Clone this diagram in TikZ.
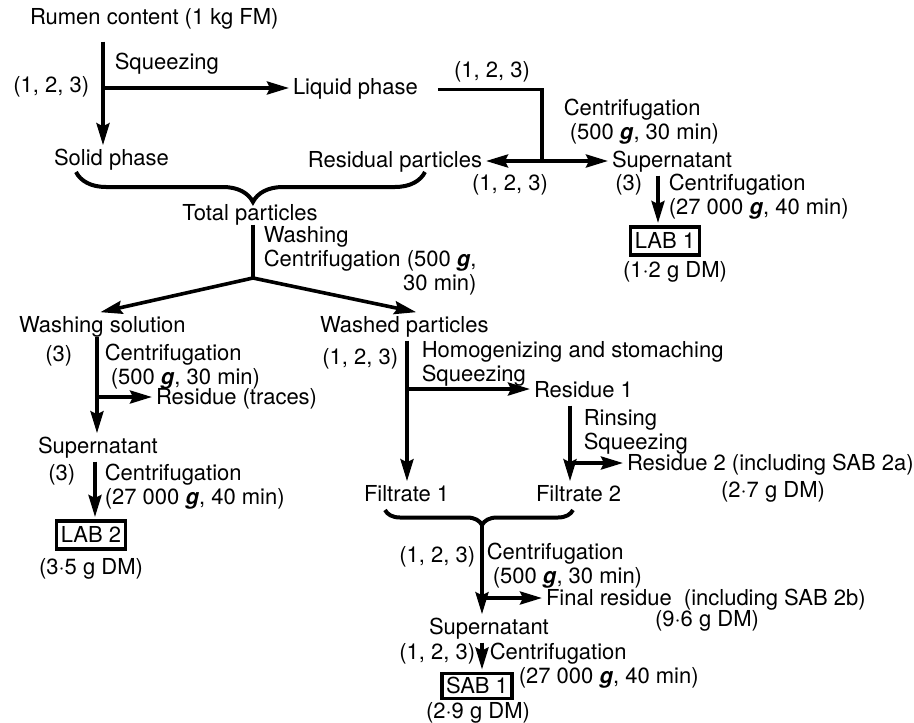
\documentclass[tikz,border=0pt]{standalone}
\usepackage{fontspec}
\setmainfont{TeX Gyre Heros}
\usepackage{tikz}
\usetikzlibrary{arrows.meta}
\usetikzlibrary{decorations.pathreplacing}
\usetikzlibrary{positioning}
\newcommand{\grav}{\textbf{\textit{g}}}
\tikzset{stage/.style={inner sep=0pt, outer sep=2pt, text height=7.9pt, text depth=2.3pt}}
\tikzset{lab/.style={inner sep=0pt}}
\tikzset{result/.style={draw, line width=1.6pt, inner xsep=2pt, inner ysep=0pt, minimum height=14pt,
                        text height=7.9pt, text depth=0pt, outer sep=2pt}}
\tikzset{curly/.style n args={2}{-, decorate, line width=2pt,
                                 decoration={brace, mirror, amplitude=#1, aspect=#2}}}

\begin{document}
\begin{tikzpicture}[->,>={Stealth[length=11pt,width=6.5pt,inset=1.5pt]},line width=1.8pt,
                    x=0.5pt,y=-0.5pt,every node/.style={font=\fontsize{11}{12}\selectfont}]
   \useasboundingbox (0,0) rectangle (914,722);

   % top: squeezing and liquid phase
   \node[stage, anchor=base west] (rumen) at (26,25) {Rumen content (1 kg FM)};
   \node[stage, anchor=base west] (liquid) at (289,95) {Liquid phase};
   \node[stage, anchor=base west] (solid) at (50,165) {Solid phase};
   \node[stage, anchor=base east] (residual) at (486,167) {Residual particles};
   \node[stage, anchor=base west] (supL) at (608,167) {Supernatant};
   \node[result] (lab1) at (665,241) {LAB 1};
   \node[stage, anchor=base] (lab1dm) at (675,277) {(1·2 g DM)};

   \node[lab, anchor=base west] (squeeze) at (113,70) {Squeezing};
   \node[lab, anchor=base east] (n123a) at (91,93) {(1, 2, 3)};
   \node[lab, anchor=base] (n123b) at (492,77) {(1, 2, 3)};
   \node[lab, anchor=base west] (centA) at (562,115) {%
      \begin{tabular}[t]{@{}l@{}}
         Centrifugation\\
         \hspace{3pt}(500 \grav, 30 min)
      \end{tabular}};
   \node[lab, anchor=base] (n123c) at (510,190) {(1, 2, 3)};
   \node[lab, anchor=base east] (n3a) at (644,190) {(3)};
   \node[lab, anchor=base west] (centB) at (667,190) {%
      \begin{tabular}[t]{@{}l@{}}
         Centrifugation\\
         (27 000 \grav, 40 min)
      \end{tabular}};

   \coordinate (jA) at (103,88);
   \coordinate (jB) at (542,161);

   \draw[shorten <=4pt] (rumen.south -| jA) -- (solid.north -| jA);
   \draw (jA) -- (jA -| liquid.west);
   \draw[-, shorten <=8pt] (liquid.east) -| (jB);
   \draw (jB) -- (jB -| residual.east);
   \draw (jB) -- (jB -| supL.west);
   \draw ([xshift=-3.5pt]lab1.north |- supL.south) -- ([xshift=-3.5pt]lab1.north);

   % total particles and washing
   \draw[curly={15pt}{0.507}] (76,172) -- (425,172);
   \node[stage, anchor=base] (total) at (250,220) {Total particles};
   \node[lab, anchor=base west] (washlab) at (262,242) {%
      \begin{tabular}[t]{@{}l@{}}
         Washing\\
         Centrifugation (500 \grav,\\
         \multicolumn{1}{@{}r@{}}{30 min)}
      \end{tabular}};
   \node[stage, anchor=base west] (washsol) at (15,332) {Washing solution};
   \node[stage, anchor=base west] (washed) at (316,332) {Washed particles};

   \coordinate (jC) at (253,278);

   \draw[-, shorten <=-2pt] (total.south -| jC) -- (jC);
   \draw (jC) -- ([xshift=-1pt]washsol.north);
   \draw (jC) -- ([xshift=6pt]washed.north);

   % left column: washing solution
   \node[lab, anchor=base east] (n3b) at (74,361) {(3)};
   \node[lab, anchor=base west] (centC) at (103,360) {%
      \begin{tabular}[t]{@{}l@{}}
         Centrifugation\\
         \hspace{3pt}(500 \grav, 30 min)
      \end{tabular}};
   \node[stage, anchor=base west] (residtr) at (152,404) {Residue (traces)};
   \node[stage, anchor=base west] (supW) at (34,453) {Supernatant};
   \node[lab, anchor=base east] (n3c) at (77,480) {(3)};
   \node[lab, anchor=base west] (centD) at (103,480) {%
      \begin{tabular}[t]{@{}l@{}}
         Centrifugation\\
         (27 000 \grav, 40 min)
      \end{tabular}};
   \node[result] (lab2) at (91,535) {LAB 2};
   \node[stage, anchor=base] (lab2dm) at (91,574) {(3·5 g DM)};

   \coordinate (jD) at (97,397);

   \draw[shorten <=-2pt] (washsol.south -| jD) -- (supW.north -| jD);
   \draw (jD) -- (jD -| residtr.west);
   \draw ([xshift=2pt]lab2.north |- supW.south) -- ([xshift=2pt]lab2.north);

   % right column: washed particles
   \node[lab, anchor=base east] (n123d) at (400,364) {(1, 2, 3)};
   \node[lab, anchor=base west] (homog) at (420,357) {%
      \begin{tabular}[t]{@{}l@{}}
         Homogenizing and stomaching\\
         Squeezing
      \end{tabular}};
   \node[stage, anchor=base west] (residue1) at (530,397) {Residue 1};
   \node[lab, anchor=base west] (rinse) at (582,425) {%
      \begin{tabular}[t]{@{}l@{}}
         Rinsing\\
         Squeezing
      \end{tabular}};
   \node[stage, anchor=base west] (residue2) at (623,470) {Residue 2 (including SAB 2a)};
   \node[stage, anchor=base] (res2dm) at (773,497) {(2·7 g DM)};
   \node[stage, anchor=base west] (filt1) at (360,501) {Filtrate 1};
   \node[stage, anchor=base west] (filt2) at (532,501) {Filtrate 2};

   \coordinate (jE) at (407,389);
   \coordinate (jF) at (570,463);

   \draw (washed.south -| jE) -- (filt1.north -| jE);
   \draw (jE) -- (jE -| residue1.west);
   \draw (residue1.south -| jF) -- (filt2.north -| jF);
   \draw (jF) -- (jF -| residue2.west);

   % filtrates to SAB 1
   \draw[curly={7.5pt}{0.516}] (385,510) -- (573,510);
   \node[lab, anchor=base east] (n123e) at (477,562) {(1, 2, 3)};
   \node[lab, anchor=base west] (centE) at (485,559) {%
      \begin{tabular}[t]{@{}l@{}}
         Centrifugation\\
         \hspace{3pt}(500 \grav, 30 min)
      \end{tabular}};
   \node[stage, anchor=base west] (finalres) at (542,605) {Final residue~~(including SAB 2b)};
   \node[stage, anchor=base] (finaldm) at (707,626) {(9·6 g DM)};
   \node[stage, anchor=base west] (supF) at (425,634) {Supernatant};
   \node[lab, anchor=base east] (n123f) at (477,659) {(1, 2, 3)};
   \node[lab, anchor=base west] (centF) at (488,659) {%
      \begin{tabular}[t]{@{}l@{}}
         Centrifugation\\
         \hspace{14.5pt}(27 000 \grav, 40 min)
      \end{tabular}};
   \node[result, minimum height=12.5pt] (sab1) at (477,686) {SAB 1};
   \node[stage, anchor=base] (sab1dm) at (478,718) {(2·9 g DM)};

   \coordinate (tipB) at (482,525);
   \coordinate (jG) at (482,598);

   \draw (tipB) -- (tipB |- supF.north);
   \draw (jG) -- (jG -| finalres.west);
   \draw ([xshift=2.5pt]sab1.north |- supF.south) -- ([xshift=2.5pt]sab1.north);
\end{tikzpicture}
\end{document}
